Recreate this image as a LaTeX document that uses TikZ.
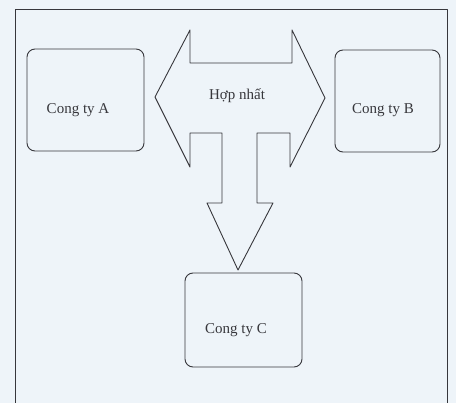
\documentclass[tikz,border=0pt]{standalone}
\usepackage{fontspec}
\setmainfont{Liberation Serif}
\usetikzlibrary{positioning}
\definecolor{paper}{RGB}{238,244,249}
\definecolor{ink}{RGB}{55,55,60}
\tikzset{
  every path/.style={line width=0.9pt,line join=round},
  company/.style={draw=ink,rounded corners=8pt,minimum width=117pt,minimum height=102pt},
  label/.style={text=ink,font=\fontsize{15}{18}\selectfont}
}
\begin{document}
\begin{tikzpicture}[x=1pt,y=-1pt]
\fill[paper] (0,0) rectangle (456,403);
\useasboundingbox (0,0) rectangle (456,403);
% frame
\draw[ink] (15,403) -- (15,9) -- (447,9) -- (447,403);

% companies
\node[company] (ctA) at (85.5,100) {};
\node[company,minimum width=105pt] (ctB) at (387.5,101) {};
\node[company,minimum height=94pt] (ctC) at (243.5,320) {};
\node[label] (txtA) at (78,110) {Cong ty A};
\node[label] (txtB) at (383,110) {Cong ty B};
\node[label] (txtC) at (236,330) {Cong ty C};

% merge arrow
\draw[ink,fill=paper] (155,97) -- (190,30) -- (190,63) -- (292,63) -- (292,30)
  -- (325,98) -- (290,167) -- (290,133) -- (257,133) -- (257,203) -- (273,203)
  -- (238,270) -- (207,203) -- (222,203) -- (222,133) -- (190,133) -- (190,167) -- cycle;
\node[label] (merge) at (237,96) {Hợp nhất};
\end{tikzpicture}
\end{document}
